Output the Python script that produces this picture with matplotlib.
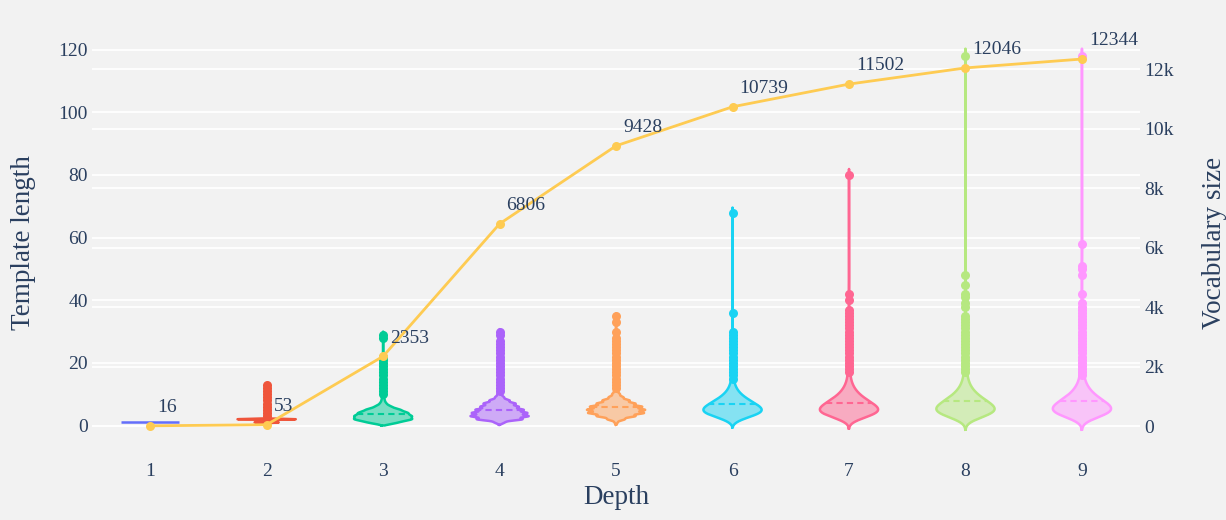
import numpy as np
import matplotlib
matplotlib.use("Agg")
import matplotlib.pyplot as plt
from matplotlib.ticker import FuncFormatter

# Template length histograms per depth (length -> number of templates)
depths = [1, 2, 3, 4, 5, 6, 7, 8, 9]

lengths_d1 = [1]
counts_d1 = [16]

lengths_d2 = [1, 2, 3, 4, 5, 6, 7, 8, 9, 10, 11, 12, 13]
counts_d2 = [12, 29, 2, 1, 1, 1, 1, 1, 1, 1, 1, 1, 1]

lengths_d3 = [1, 2, 3, 4, 5, 6, 7, 8, 9, 10, 11, 12, 13, 14, 15, 16, 17, 18,
              19, 20, 21, 22, 28, 29]
counts_d3 = [300, 560, 540, 470, 330, 150, 60, 30, 20, 14, 10, 8, 6, 5, 4, 3, 3,
             2, 2, 2, 1, 1, 1, 1]

lengths_d4 = [1, 2, 3, 4, 5, 6, 7, 8, 9, 10, 11, 12, 13, 14, 15, 16, 17, 18,
              19, 20, 21, 22, 23, 24, 25, 26, 27, 29, 30]
counts_d4 = [250, 1150, 1450, 1380, 1200, 950, 800, 500, 220, 120, 80, 60, 45,
             35, 27, 20, 15, 11, 8, 6, 5, 4, 3, 2, 1, 1, 1, 1, 1]

lengths_d5 = [1, 2, 3, 4, 5, 6, 7, 8, 9, 10, 11, 12, 13, 14, 15, 16, 17, 18,
              19, 20, 21, 22, 23, 24, 25, 26, 27, 28, 30, 33, 35]
counts_d5 = [80, 450, 1000, 1450, 1500, 1350, 1000, 700, 380, 200, 110, 80, 60,
             48, 38, 30, 24, 19, 14, 11, 8, 6, 5, 4, 3, 2, 2, 1, 1, 1, 1]

lengths_d6 = [1, 2, 3, 4, 5, 6, 7, 8, 9, 10, 11, 12, 13, 14, 15, 16, 17, 18,
              19, 20, 21, 22, 23, 24, 25, 26, 27, 28, 29, 30, 36, 68]
counts_d6 = [14, 45, 90, 130, 140, 128, 105, 80, 58, 40, 27, 18, 12, 8, 6, 5, 4,
             4, 3, 3, 2, 2, 2, 2, 1, 1, 1, 1, 1, 1, 1, 1]

lengths_d7 = [1, 2, 3, 4, 5, 6, 7, 8, 9, 10, 11, 12, 13, 14, 15, 16, 17, 18,
              19, 20, 21, 22, 23, 24, 25, 26, 27, 28, 29, 30, 31, 32, 33, 34,
              35, 36, 37, 40, 42, 80]
counts_d7 = [15, 55, 105, 150, 160, 150, 125, 100, 75, 55, 40, 28, 20, 14, 10,
             8, 6, 5, 4, 4, 3, 3, 2, 2, 2, 2, 1, 1, 1, 1, 1, 1, 1, 1, 1, 1, 1,
             1, 1, 1]

lengths_d8 = [1, 2, 3, 4, 5, 6, 7, 8, 9, 10, 11, 12, 13, 14, 15, 16, 17, 18,
              19, 20, 21, 22, 23, 24, 25, 26, 27, 28, 29, 30, 31, 32, 33, 34,
              35, 38, 39, 41, 42, 45, 48, 118]
counts_d8 = [14, 50, 100, 145, 158, 150, 128, 104, 80, 60, 44, 32, 23, 17, 13,
             10, 8, 7, 6, 5, 4, 4, 3, 3, 3, 2, 2, 2, 2, 2, 1, 1, 1, 1, 1, 1, 1,
             1, 1, 1, 1, 1]

lengths_d9 = [1, 2, 3, 4, 5, 6, 7, 8, 9, 10, 11, 12, 13, 14, 15, 16, 17, 18,
              19, 20, 21, 22, 23, 24, 25, 26, 27, 28, 29, 30, 31, 32, 33, 34,
              35, 36, 37, 38, 39, 42, 48, 50, 51, 58, 118]
counts_d9 = [14, 48, 98, 142, 155, 150, 130, 106, 82, 62, 46, 34, 25, 18, 14,
             11, 9, 8, 7, 6, 5, 4, 4, 3, 3, 3, 2, 2, 2, 2, 2, 1, 1, 1, 1, 1, 1,
             1, 1, 1, 1, 1, 1, 1, 1]

lengths = [lengths_d1, lengths_d2, lengths_d3, lengths_d4, lengths_d5,
           lengths_d6, lengths_d7, lengths_d8, lengths_d9]
counts = [counts_d1, counts_d2, counts_d3, counts_d4, counts_d5,
          counts_d6, counts_d7, counts_d8, counts_d9]

# Vocabulary size reached at each depth
vocab_size = [16, 53, 2353, 6806, 9428, 10739, 11502, 12046, 12344]

colors = ['#636EFA', '#EF553B', '#00CC96', '#AB63FA', '#FFA15A',
          '#19D3F3', '#FF6692', '#B6E880', '#FF97FF']
line_color = '#FECB52'
text_color = '#2a3f5f'
bg = '#f2f2f2'

plt.rcParams['font.family'] = ['Liberation Serif', 'DejaVu Serif']


def violin(ax, x, vals, color, half_width=0.25):
    vals = np.asarray(vals, dtype=float)
    n = len(vals)
    vmin, vmax = vals.min(), vals.max()
    if vmax == vmin:
        ax.plot([x - half_width, x + half_width], [vmin, vmin], color=color,
                lw=1.8, solid_capstyle='butt', zorder=3)
        return
    q1, q3 = np.percentile(vals, [25, 75])
    iqr = q3 - q1
    sd = vals.std(ddof=1)
    bw = max(1.059 * min(sd, iqr / 1.349) * n ** -0.2, (vmax - vmin) / 100)

    # gaussian kde on the unique lengths, weighted by counts
    uniq, w = np.unique(vals, return_counts=True)
    ys = np.linspace(vmin - 2 * bw, vmax + 2 * bw, 4000)
    dens = (w[None, :] * np.exp(-0.5 * ((ys[:, None] - uniq[None, :]) / bw) ** 2)).sum(axis=1)
    wid = dens / dens.max() * half_width

    ax.fill_betweenx(ys, x - wid, x + wid, color=color, alpha=0.5, lw=0, zorder=2)
    xs = np.concatenate([x - wid, (x + wid)[::-1], [x - wid[0]]])
    yy = np.concatenate([ys, ys[::-1], [ys[0]]])
    ax.plot(xs, yy, color=color, lw=1.8, zorder=3)

    # mean line
    mean = vals.mean()
    mw = np.interp(mean, ys, wid)
    ax.plot([x - mw, x + mw], [mean, mean], color=color, lw=1.5,
            ls=(0, (3, 2)), zorder=4)

    # outliers beyond the whiskers
    lo, hi = q1 - 1.5 * iqr, q3 + 1.5 * iqr
    out = uniq[(uniq < lo) | (uniq > hi)]
    ax.plot(np.full(len(out), x), out, 'o', color=color, ms=6.5, mew=0, zorder=4)


fig = plt.figure(figsize=(12.26, 5.2), dpi=100, facecolor=bg)
rect = [0.075, 0.125, 0.855, 0.8173]

ax = fig.add_axes(rect)
ax_r = ax.twinx()
ax_line = ax.twinx()

ax.set_zorder(2)
ax_r.set_zorder(1)
ax_line.set_zorder(3)
ax.patch.set_visible(False)
ax_r.patch.set_visible(True)
ax_r.patch.set_facecolor(bg)
ax_line.patch.set_visible(False)

for d, lv, cv, c in zip(depths, lengths, counts, colors):
    violin(ax, d, np.repeat(lv, cv), c)

ax.set_xlim(0.5, 9.5)
ax.set_ylim(-9.42, 126.3)
ax_r.set_ylim(-965, 13320)
ax_line.set_ylim(-965, 13320)

ax.set_xticks(depths)
ax.set_yticks(np.arange(0, 121, 20))
ax_r.set_yticks(np.arange(0, 12001, 2000))
ax_r.yaxis.set_major_formatter(FuncFormatter(lambda v, p: '0' if v == 0 else f'{int(v / 1000)}k'))

ax.grid(axis='y', color='white', lw=1.3)
ax_r.grid(axis='y', color='white', lw=1.3)
ax.set_axisbelow(True)

for a in (ax, ax_r, ax_line):
    for s in a.spines.values():
        s.set_visible(False)

ax.tick_params(axis='both', length=0, labelsize=14, colors=text_color)
ax.tick_params(axis='y', pad=3)
ax.tick_params(axis='x', pad=6)
ax_r.tick_params(axis='y', length=0, labelsize=14, colors=text_color, pad=3)
ax_line.set_yticks([])

ax.set_xlabel('Depth', fontsize=19.5, color=text_color, labelpad=3)
ax.set_ylabel('Template length', fontsize=19.5, color=text_color, labelpad=16)
ax_r.set_ylabel('Vocabulary size', fontsize=19.5, color=text_color, labelpad=20)

# vocabulary size line on the right axis
ax_line.plot(depths, vocab_size, '-o', color=line_color, lw=2, ms=6.5, mew=0)
for d, v in zip(depths, vocab_size):
    ax_line.annotate(str(v), (d, v), xytext=(5, 7), textcoords='offset points',
                     ha='left', va='bottom', fontsize=14, color=text_color)

fig.savefig('out.png', dpi=100, facecolor=bg)
